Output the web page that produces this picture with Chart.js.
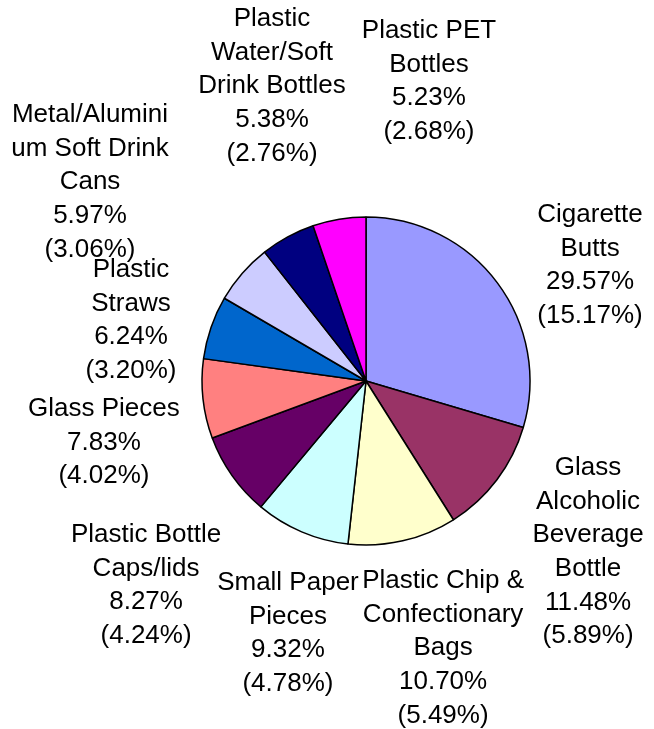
<!DOCTYPE html>
<html>
<head>
<meta charset="utf-8">
<script src="https://cdn.jsdelivr.net/npm/chart.js@4/dist/chart.umd.min.js"></script>
<style>
  html, body { margin: 0; padding: 0; background: #ffffff; }
  canvas { display: block; }
</style>
</head>
<body>
<canvas id="litter" width="654" height="729"></canvas>
<script>
// Litter categories (each entry is the wrapped label lines)
const categories = [
  ['Cigarette', 'Butts'],
  ['Glass', 'Alcoholic', 'Beverage', 'Bottle'],
  ['Plastic Chip &', 'Confectionary', 'Bags'],
  ['Small Paper', 'Pieces'],
  ['Plastic Bottle', 'Caps/lids'],
  ['Glass Pieces'],
  ['Plastic', 'Straws'],
  ['Metal/Alumini', 'um Soft Drink', 'Cans'],
  ['Plastic', 'Water/Soft', 'Drink Bottles'],
  ['Plastic PET', 'Bottles']
];

// Share of this group (%)
const shares = [29.57, 11.48, 10.70, 9.32, 8.27, 7.83, 6.24, 5.97, 5.38, 5.23];

// Share of all litter collected (%), shown in brackets
const overallShares = [15.17, 5.89, 5.49, 4.78, 4.24, 4.02, 3.20, 3.06, 2.76, 2.68];

const sliceColors = [
  '#9999FF', '#993366', '#FFFFCC', '#CCFFFF', '#660066',
  '#FF8080', '#0066CC', '#CCCCFF', '#000080', '#FF00FF'
];

// Label placement: block centre x and first baseline y, relative to the pie
// centre, in multiples of the pie radius.
const labelOffsets = [
  [1.366, -0.970],
  [1.354, 0.573],
  [0.470, 1.262],
  [-0.476, 1.274],
  [-1.341, 0.982],
  [-1.598, 0.213],
  [-1.433, -0.634],
  [-1.683, -1.579],
  [-0.573, -2.165],
  [0.384, -2.091]
];

const FONT_SIZE = 26;
const LINE_HEIGHT = 33.7;

const sliceLabels = {
  id: 'sliceLabels',
  afterDatasetsDraw(chart) {
    const ctx = chart.ctx;
    const meta = chart.getDatasetMeta(0);
    ctx.save();
    ctx.fillStyle = '#000000';
    ctx.font = FONT_SIZE + 'px "Liberation Sans", Arial, sans-serif';
    ctx.textAlign = 'center';
    ctx.textBaseline = 'alphabetic';
    meta.data.forEach((arc, i) => {
      const r = arc.outerRadius;
      const cx = arc.x + labelOffsets[i][0] * r;
      let y = arc.y + labelOffsets[i][1] * r;
      const lines = categories[i].concat([
        shares[i].toFixed(2) + '%',
        '(' + overallShares[i].toFixed(2) + '%)'
      ]);
      lines.forEach(line => {
        ctx.fillText(line, cx, y);
        y += LINE_HEIGHT;
      });
    });
    ctx.restore();
  }
};

new Chart(document.getElementById('litter'), {
  type: 'pie',
  data: {
    labels: categories,
    datasets: [{
      data: shares,
      backgroundColor: sliceColors,
      borderColor: '#000000',
      borderWidth: 1.5,
      hoverOffset: 0
    }]
  },
  options: {
    responsive: false,
    animation: false,
    rotation: 0,
    layout: {
      padding: { left: 201.25, right: 123.25, top: 216.25, bottom: 183.25 }
    },
    plugins: {
      legend: { display: false },
      tooltip: { enabled: false },
      title: { display: false }
    }
  },
  plugins: [sliceLabels]
});
</script>
</body>
</html>
